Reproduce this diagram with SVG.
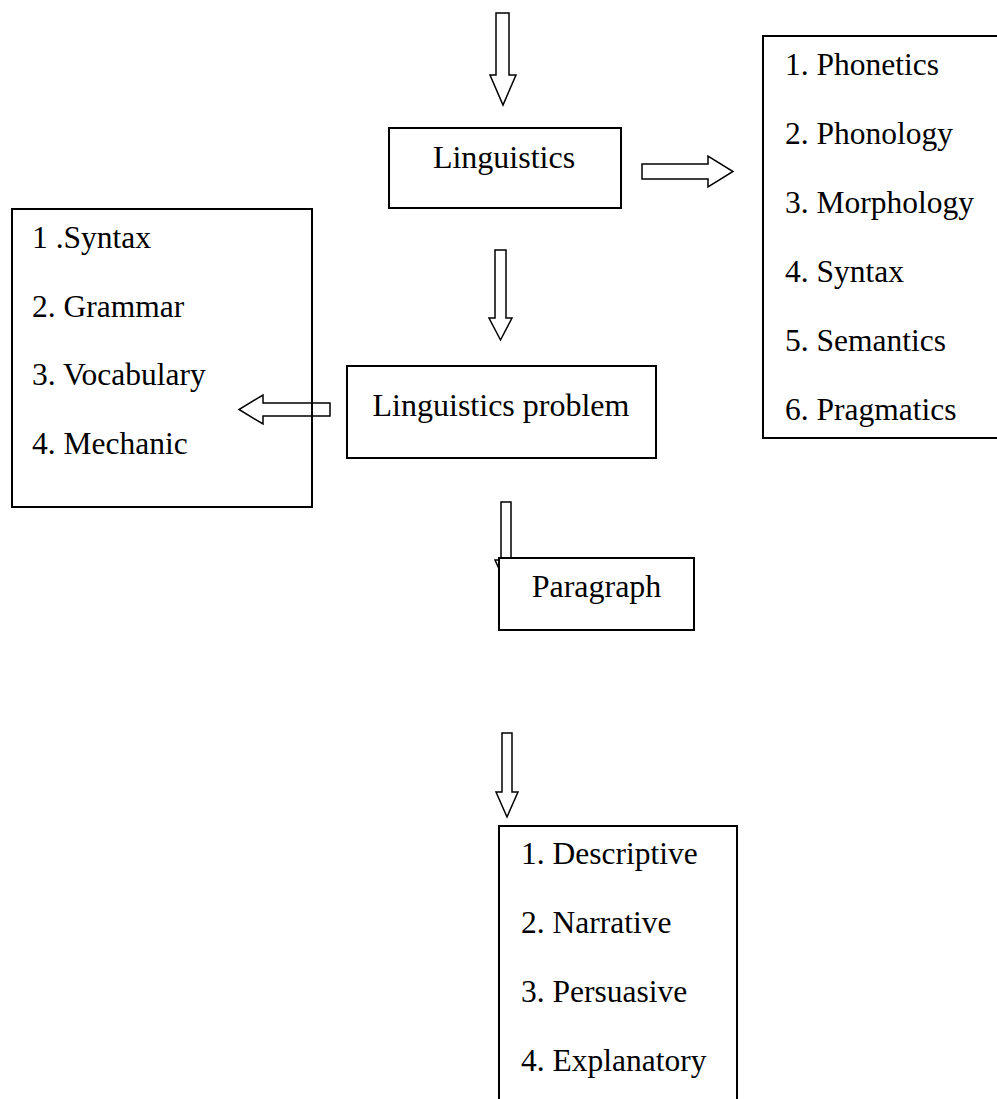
<svg xmlns="http://www.w3.org/2000/svg" width="997" height="1099" viewBox="0 0 997 1099">
<style>
.box{fill:#fff;stroke:#000;stroke-width:2}
.open{fill:none;stroke:#000;stroke-width:2}
.arr{fill:#fff;stroke:#000;stroke-width:1.5;stroke-linejoin:miter}
text{font-family:"Liberation Serif","Times New Roman",serif;fill:#000}
.lbl{font-size:32px}
.li{font-size:31.5px}
</style>
<rect width="997" height="1099" fill="#fff"/>
<g id="connectors">
<path class="arr" d="M496,13 H509 V75 H516 L503,105 L490,75 H496 Z"/>
<path class="arr" d="M642,164 H708 V156 L733,171.5 L708,187 V179 H642 Z"/>
<path class="arr" d="M495,250 H506 V318 H512 L500.5,340 L489,318 H495 Z"/>
<path class="arr" d="M330,403 H263 V395 L239,409.5 L263,424 V416 H330 Z"/>
<path class="arr" d="M501,502 H511 V560 H517 L506,584 L495,560 H501 Z"/>
<path class="arr" d="M502,733 H512 V792 H518 L507,817 L496,792 H502 Z"/>
</g>
<g id="linguistics">
<rect class="box" x="389" y="128" width="232" height="80"/>
<text class="lbl" x="504" y="168" text-anchor="middle">Linguistics</text>
</g>
<g id="branches">
<rect class="box" x="763" y="36" width="240" height="402"/>
<text class="li" x="785" y="75">1. Phonetics</text>
<text class="li" x="785" y="144">2. Phonology</text>
<text class="li" x="785" y="213">3. Morphology</text>
<text class="li" x="785" y="282">4. Syntax</text>
<text class="li" x="785" y="351">5. Semantics</text>
<text class="li" x="785" y="420">6. Pragmatics</text>
</g>
<g id="problem">
<rect class="box" x="347" y="366" width="309" height="92"/>
<text class="lbl" x="501" y="416" text-anchor="middle">Linguistics problem</text>
</g>
<g id="problems-list">
<rect class="open" x="12" y="209" width="300" height="298"/>
<text class="li" x="32" y="248">1 .Syntax</text>
<text class="li" x="32" y="317">2. Grammar</text>
<text class="li" x="32" y="385">3. Vocabulary</text>
<text class="li" x="32" y="454">4. Mechanic</text>
</g>
<g id="paragraph">
<rect class="box" x="499" y="558" width="195" height="72"/>
<text class="lbl" x="596.5" y="597" text-anchor="middle">Paragraph</text>
</g>
<g id="paragraph-types">
<rect class="box" x="499" y="826" width="238" height="300"/>
<text class="li" x="521" y="864">1. Descriptive</text>
<text class="li" x="521" y="933">2. Narrative</text>
<text class="li" x="521" y="1002">3. Persuasive</text>
<text class="li" x="521" y="1071">4. Explanatory</text>
</g>
</svg>
